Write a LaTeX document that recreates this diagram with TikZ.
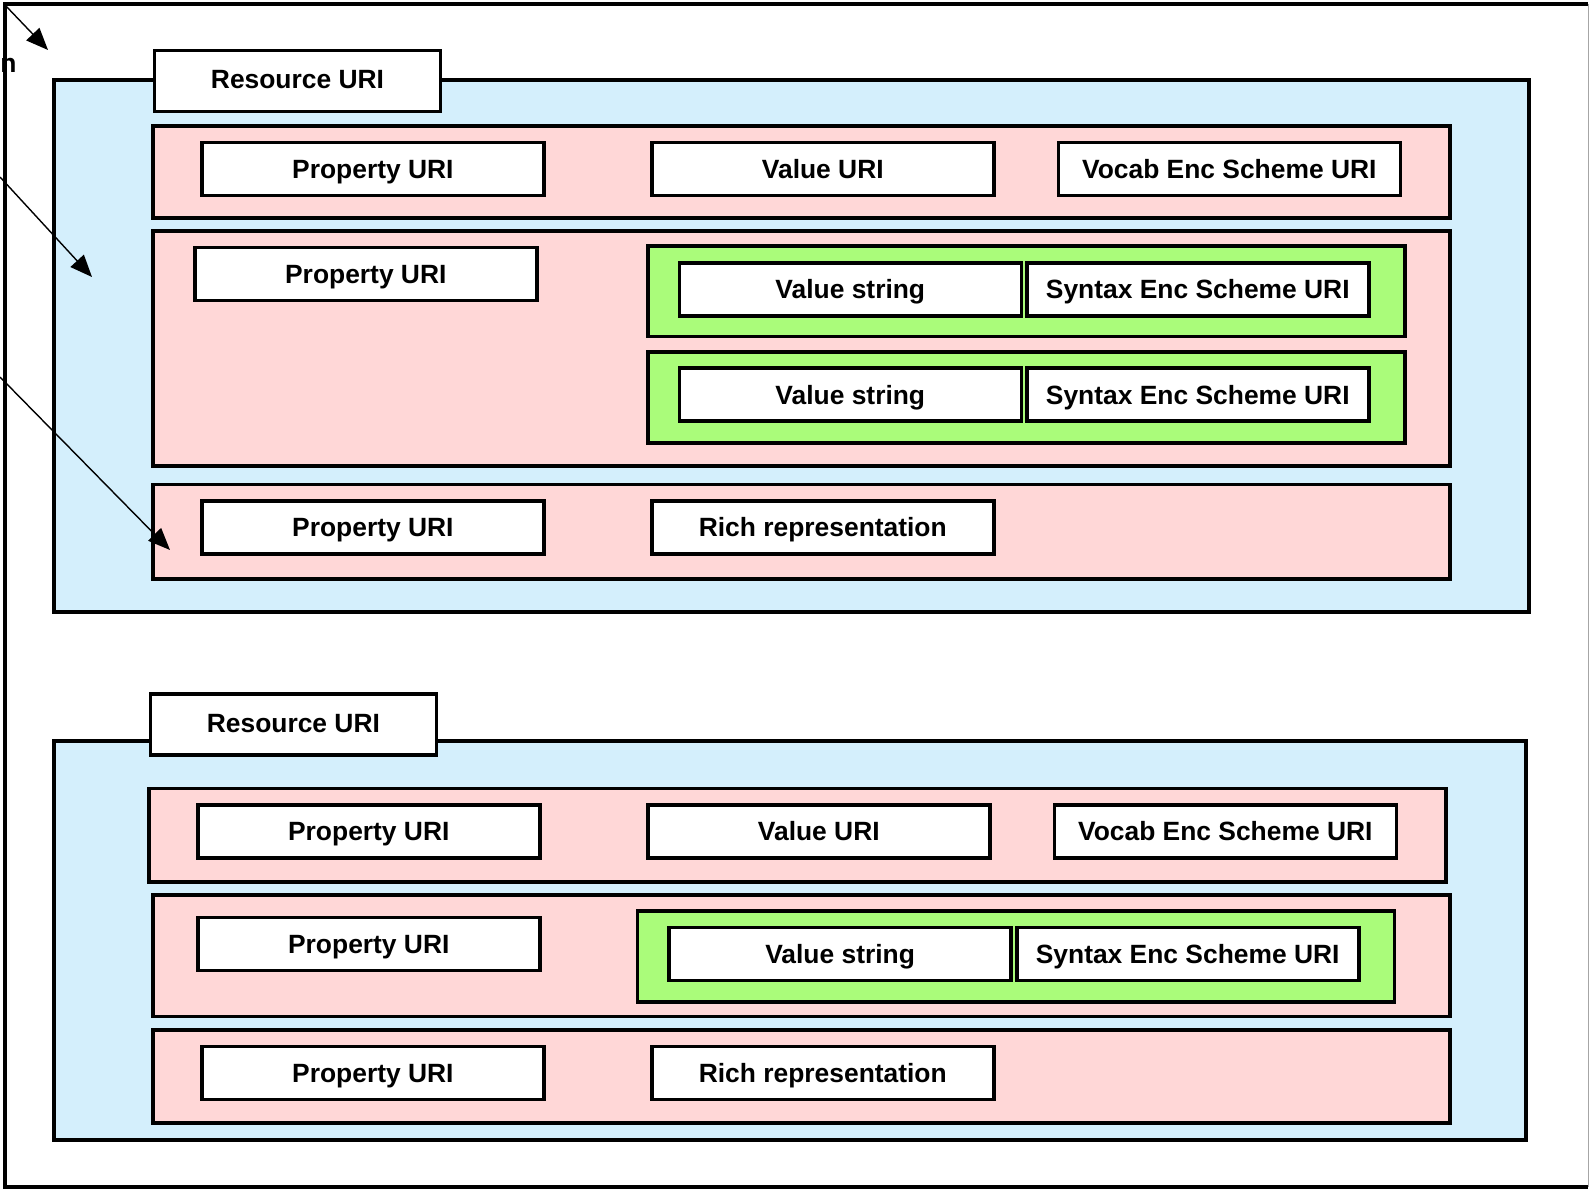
\documentclass[tikz,border=0pt]{standalone}
\usepackage{fontspec}
\setmainfont{Liberation Sans}
\usetikzlibrary{arrows.meta}

\definecolor{resblue}{RGB}{212,239,252}
\definecolor{proppink}{RGB}{255,215,215}
\definecolor{valgreen}{RGB}{170,252,122}

\tikzset{
  frame/.style={line width=1.7pt},
  resbox/.style={draw,line width=1.9pt,fill=resblue},
  rowbox/.style={draw,line width=1.9pt,fill=proppink},
  valbox/.style={draw,line width=1.9pt,fill=valgreen},
  field/.style={draw,line width=1.8pt,fill=white,inner sep=0pt,
    minimum width=171pt,minimum height=26.5pt,
    text height=9.45pt,text depth=0pt,
    font=\fontsize{13.2}{15}\selectfont\bfseries},
  tab/.style={field,minimum width=143pt,minimum height=30.5pt,text depth=1.5pt},
  pointer/.style={line width=0.7pt,-{Triangle[length=11pt,width=9pt]}}
}

\begin{document}
\begin{tikzpicture}[x=0.5pt,y=-0.5pt]
\useasboundingbox (0,0) rectangle (1589,1189);

% outer frame
\draw[frame] (1588,4) -- (5,4) -- (5,1187) -- (1588,1187);
\draw[gray!70,line width=0.5pt] (1588,4) -- (1588,1187);

% first resource
\begin{scope}
\draw[resbox] (54,80) rectangle (1529,612);
\node[tab] (res1) at (297.5,81) {Resource URI};

\draw[rowbox] (153,126) rectangle (1450,218);
\node[field] (prop11) at (372.9,168.8) {Property URI};
\node[field] (val11) at (822.8,168.8) {Value URI};
\node[field] (ves11) at (1229.3,168.8) {Vocab Enc Scheme URI};

\draw[rowbox] (153,231) rectangle (1450,466);
\node[field] (prop12) at (365.8,274) {Property URI};
\draw[valbox] (647.6,246) rectangle (1404.6,336.5);
\node[field] (str12a) at (850.3,289.3) {Value string};
\node[field] (ses12a) at (1197.8,289.3) {Syntax Enc Scheme URI};
\draw[valbox] (647.6,351.7) rectangle (1404.6,443);
\node[field] (str12b) at (850.3,394.7) {Value string};
\node[field] (ses12b) at (1197.8,394.7) {Syntax Enc Scheme URI};

\draw[rowbox] (153,484.4) rectangle (1450,578.7);
\node[field] (prop13) at (372.9,527.5) {Property URI};
\node[field] (rich13) at (822.8,527.5) {Rich representation};
\end{scope}

% second resource
\begin{scope}
\draw[resbox] (54,741) rectangle (1526,1140);
\node[tab] (res2) at (293.4,724.5) {Resource URI};

\draw[rowbox] (149,788.4) rectangle (1446,881.7);
\node[field] (prop21) at (368.8,831.5) {Property URI};
\node[field] (val21) at (818.8,831.5) {Value URI};
\node[field] (ves21) at (1225.3,831.5) {Vocab Enc Scheme URI};

\draw[rowbox] (153,894.8) rectangle (1450,1016.4);
\node[field] (prop22) at (368.8,944) {Property URI};
\draw[valbox] (637.4,911) rectangle (1394.4,1002);
\node[field] (str22) at (840.1,954) {Value string};
\node[field] (ses22) at (1187.7,954) {Syntax Enc Scheme URI};

\draw[rowbox] (153,1029.6) rectangle (1450,1122.8);
\node[field] (prop23) at (372.9,1072.8) {Property URI};
\node[field] (rich23) at (822.8,1072.8) {Rich representation};
\end{scope}

% pointers coming in from the left
\coordinate (in1) at (5,5);
\coordinate (tip1) at (48,50);
\coordinate (in2) at (0,177);
\coordinate (tip2) at (92,277);
\coordinate (in3) at (0,377);
\coordinate (tip3) at (170,550);
\draw[pointer] (in1) -- (tip1);
\draw[pointer] (in2) -- (tip2);
\draw[pointer] (in3) -- (tip3);
\node[anchor=base east,inner sep=0pt,font=\fontsize{13.2}{15}\selectfont\bfseries] (cut) at (17,72) {n};

\end{tikzpicture}
\end{document}
